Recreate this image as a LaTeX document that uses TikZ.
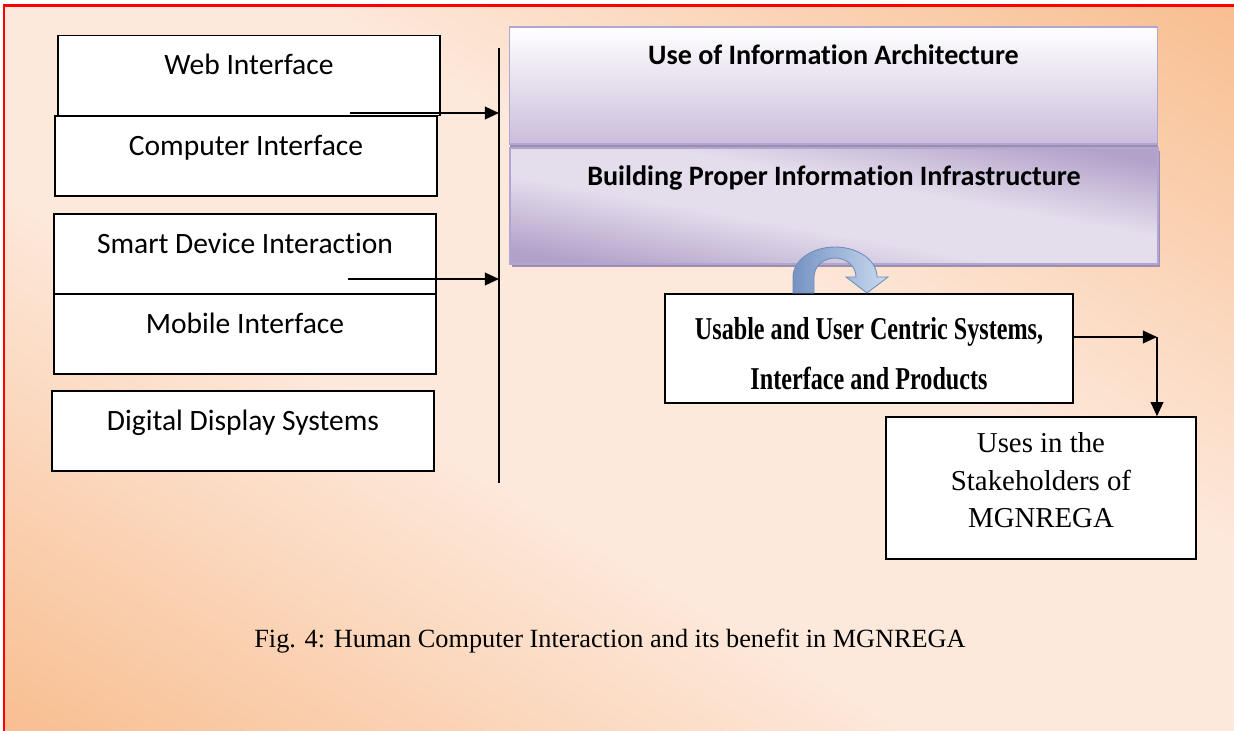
\documentclass[tikz,border=0pt]{standalone}
\usepackage{fontspec}
\setmainfont{Liberation Serif}
\newfontfamily\calibri[Ligatures=NoCommon]{Carlito}
\newfontfamily\narrowserif[FakeStretch=0.76]{Liberation Serif}
\usetikzlibrary{arrows.meta,shadows}
\definecolor{peachlight}{HTML}{FDE9DC}
\definecolor{peachdark}{HTML}{F8BE90}
\definecolor{lavbottom}{HTML}{CBBDDB}
\definecolor{lavlight}{HTML}{E4DDEC}
\definecolor{lavdark}{HTML}{B2A1C9}
\definecolor{lavline}{HTML}{B0A6D2}
\definecolor{lavshadow}{HTML}{9E8DAD}
\definecolor{bluedark}{HTML}{7593C2}
\definecolor{bluelight}{HTML}{CADBF1}
\definecolor{blueline}{HTML}{6E8CBB}
\pgfdeclarehorizontalshading{peachband}{100bp}{color(0bp)=(peachdark); color(25bp)=(peachdark);
	color(44bp)=(peachlight); color(56bp)=(peachlight); color(75bp)=(peachdark); color(100bp)=(peachdark)}
\pgfdeclarehorizontalshading{lavband}{100bp}{color(0bp)=(lavdark); color(28bp)=(lavdark);
	color(44bp)=(lavlight); color(56bp)=(lavlight); color(72bp)=(lavdark); color(100bp)=(lavdark)}
\tikzset{
	inbox/.style   = {shape=rectangle, draw, line width=1.1pt, fill=white,
		minimum width=9.55cm, minimum height=2cm, inner sep=0pt,
		text height=0.975cm, text depth=1.025cm,
		font=\calibri\fontsize{21}{25}\selectfont},
	archline/.style = {shape=rectangle, draw=lavline, line width=1.2pt,
		minimum width=16.2cm, inner sep=0pt,
		font=\calibri\bfseries\fontsize{20}{24}\selectfont},
	archbox/.style = {archline,
		drop shadow={shadow xshift=0.6pt, shadow yshift=-2pt, fill=lavshadow, opacity=1}},
	outbox/.style  = {shape=rectangle, draw, line width=1.1pt, fill=white, inner sep=0pt},
	boxtext/.style = {inner sep=0pt, align=center},
	flow/.style    = {line width=1.1pt, -{Triangle[length=10pt,width=9pt]}}
}

\begin{document}
\begin{tikzpicture}[x=0.025cm, y=-0.025cm]
\useasboundingbox (0,0) rectangle (1234,730);
% page background and frame
\begin{scope}
\clip (4,5) rectangle (1240,736);
\shade[shading=peachband, transform canvas={rotate around={59.4:(619,370)}}]
	(-9,-347) rectangle (1247,1087);
\end{scope}
\draw[red, line width=2pt] (4,736) -- (4,5.5) -- (1240,5.5);

% interfaces
\coordinate (bartop) at (499,48);
\coordinate (barbot) at (499,483);
\draw[line width=1pt] (bartop) -- (barbot);
\node[inbox] (web)     at (249,75.5) {Web Interface};
\node[inbox] (comp)    at (246,156)  {Computer Interface};
\node[inbox] (smart)   at (245,254)  {Smart Device Interaction};
\node[inbox] (mobile)  at (245,334)  {Mobile Interface};
\node[inbox] (digital) at (243,431)  {Digital Display Systems};
\coordinate (webtail)   at (350,113);
\coordinate (smarttail) at (348,279);
\draw[flow] (webtail) -- (webtail -| bartop);
\draw[flow] (smarttail) -- (smarttail -| bartop);

% information architecture
\node[archbox, top color=white, bottom color=lavbottom,
	minimum height=2.925cm, text height=0.95cm, text depth=1.975cm]
	(arch) at (833.5,85.5) {Use of Information Architecture};
% second bar: shadow and diagonal fill first
\fill[lavshadow] (512,151) rectangle (1160,267);
\begin{scope}
\clip (510,148) rectangle (1158,264);
\shade[shading=lavband, transform canvas={rotate around={79.85:(834,206)}}]
	(720,-124) rectangle (948,536);
\end{scope}
\node[archline, minimum height=2.9cm, text height=0.95cm, text depth=1.95cm]
	(infra) at (834,206) {Building Proper Information Infrastructure};

% systems and stakeholders
\node[outbox, minimum width=10.2cm, minimum height=2.725cm] (usable) at (869,348.5) {};
\node[boxtext, font=\narrowserif\bfseries\fontsize{22.6}{35.6}\selectfont]
	(usabletext) at (869,354) {Usable and User Centric Systems,\\ Interface and Products};
\node[outbox, minimum width=7.75cm, minimum height=3.55cm] (stake) at (1041,488) {};
\node[boxtext, font=\fontsize{20.5}{26.7}\selectfont]
	(staketext) at (1041,480.5) {Uses in the\\ Stakeholders of\\ MGNREGA};

% curved arrow
\shade[draw=blueline, line width=0.6pt, left color=bluedark, right color=bluelight]
	(793,293) -- (793,277) arc[start angle=180, end angle=360, x radius=42, y radius=30]
	-- (888,277) -- (867,293) -- (846,277) -- (856,277)
	arc[start angle=360, end angle=180, x radius=21, y radius=19] -- (814,293) -- cycle;

\coordinate (bend) at (1157,337);
\draw[flow] (usable.east |- bend) -- (bend);
\draw[flow] (bend) -- (bend |- stake.north);

\node[anchor=base, font=\fontsize{18.7}{22}\selectfont] (caption) at (610,647)
	{Fig. 4: Human Computer Interaction and its benefit in MGNREGA};
\end{tikzpicture}
\end{document}
